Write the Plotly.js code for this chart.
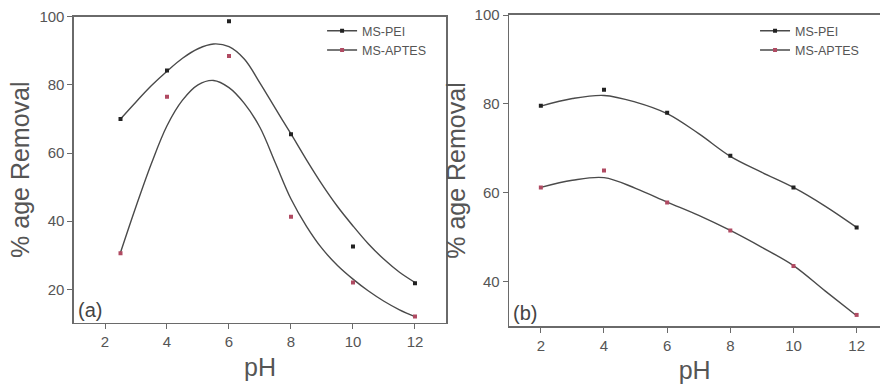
<!DOCTYPE html>
<html>
<head>
<meta charset="utf-8">
<script src="https://cdn.plot.ly/plotly-3.0.1.min.js"></script>
<style>html,body{margin:0;padding:0;background:#fff;}#chart{width:880px;height:385px;}</style>
</head>
<body>
<div id="chart"></div>
<script>
// ---------- Panel (a) data ----------
const phA = [2.5, 4, 6, 8, 10, 12];
const peiA = [70, 84.2, 98.7, 65.5, 32.6, 21.8];
const aptesA = [30.6, 76.5, 88.5, 41.3, 22, 12];
// fitted curves
const fitXA = [2.5, 3, 3.5, 4, 4.5, 5, 5.5, 6, 6.5, 7, 7.5, 8, 8.5, 9, 9.5, 10, 10.5, 11, 11.5, 12];
const fitPeiA = [70, 75, 79.8, 84, 87.8, 90.6, 92, 91.2, 87.5, 80.5, 73, 65.6, 58, 50.8, 44.3, 38.6, 33.3, 28.8, 25, 22];
const fitAptesA = [30.8, 44.3, 57, 68, 75.5, 80, 81.3, 79.2, 74.5, 67.5, 57, 46.5, 38.5, 32, 27, 23, 19.5, 16.5, 14, 12];

// ---------- Panel (b) data ----------
const phB = [2, 4, 6, 8, 10, 12];
const peiB = [79.6, 83.2, 78, 68.3, 61.2, 52.2];
const aptesB = [61.2, 65, 57.8, 51.5, 43.5, 32.5];
const fitXB = [2, 3, 4, 5, 6, 7, 8, 9, 10, 11, 12];
const fitPeiB = [79.5, 81.2, 81.9, 80.4, 77.8, 73.3, 68.2, 64.6, 61.2, 57, 52.2];
const fitAptesB = [61.2, 62.8, 63.4, 61, 57.9, 54.9, 51.5, 47.7, 43.6, 37.9, 32.3];

const seriesNames = ['MS-PEI', 'MS-APTES'];
const xTicks = [2, 4, 6, 8, 10, 12];
const yTicksA = [20, 40, 60, 80, 100];
const yTicksB = [40, 60, 80, 100];

const curveColor = '#4a4a4a';
const peiMarker = '#222222';
const aptesMarker = '#b04a62';
const axisColor = '#6a6a6a';
const textColor = '#555555';

function fit(x, y, xa, ya) {
  return {x: x, y: y, xaxis: xa, yaxis: ya, mode: 'lines', showlegend: false,
    line: {color: curveColor, width: 1.4, shape: 'spline', smoothing: 1}, hoverinfo: 'skip'};
}
function pts(x, y, xa, ya, c) {
  return {x: x, y: y, xaxis: xa, yaxis: ya, mode: 'markers', showlegend: false,
    marker: {color: c, size: 4, symbol: 'square'}};
}
function leg(name, c, lg) {
  return {x: [null], y: [null], xaxis: 'x', yaxis: 'y', mode: 'lines+markers', name: name, legend: lg,
    line: {color: curveColor, width: 1.4}, marker: {color: c, size: 4, symbol: 'square'}};
}

const data = [
  fit(fitXA, fitPeiA, 'x', 'y'),
  fit(fitXA, fitAptesA, 'x', 'y'),
  pts(phA, peiA, 'x', 'y', peiMarker),
  pts(phA, aptesA, 'x', 'y', aptesMarker),
  fit(fitXB, fitPeiB, 'x2', 'y2'),
  fit(fitXB, fitAptesB, 'x2', 'y2'),
  pts(phB, peiB, 'x2', 'y2', peiMarker),
  pts(phB, aptesB, 'x2', 'y2', aptesMarker),
  leg(seriesNames[0], peiMarker, 'legend'),
  leg(seriesNames[1], aptesMarker, 'legend'),
  leg(seriesNames[0], peiMarker, 'legend2'),
  leg(seriesNames[1], aptesMarker, 'legend2')
];

const tickFont = {family: 'Liberation Sans, Arial, sans-serif', size: 15, color: textColor};
const titleFont = {family: 'Liberation Sans, Arial, sans-serif', size: 25, color: textColor};

function xax(domain, range, anchor) {
  return {domain: domain, range: range, anchor: anchor, tickvals: xTicks, ticktext: xTicks.map(String),
    ticks: 'outside', ticklen: 5, tickcolor: axisColor, showline: true, linecolor: axisColor, linewidth: 1.6,
    mirror: true, showgrid: false, zeroline: false, tickfont: tickFont,
    title: {text: 'pH', font: titleFont, standoff: 9}};
}
function yax(domain, range, anchor, ticks, mirror) {
  return {domain: domain, range: range, anchor: anchor, tickvals: ticks, ticktext: ticks.map(String),
    ticks: 'outside', ticklen: 5, tickcolor: axisColor, showline: true, linecolor: axisColor, linewidth: 1.6,
    mirror: mirror, showgrid: false, zeroline: false, tickfont: tickFont,
    title: {text: '% age Removal', font: titleFont, standoff: 2}};
}

const legendFont = {family: 'Liberation Sans, Arial, sans-serif', size: 12.5, color: textColor};
const layout = {
  width: 880, height: 385,
  margin: {l: 0, r: 0, t: 0, b: 0},
  paper_bgcolor: '#ffffff', plot_bgcolor: '#ffffff',
  xaxis: xax([0.0841, 0.5068], [1, 13], 'y'),
  yaxis: yax([0.1618, 0.9566], [10.2, 100], 'x', yTicksA, true),
  xaxis2: xax([0.5787, 1], [1, 12.74], 'y2'),
  yaxis2: yax([0.1532, 0.961], [30, 100], 'x2', yTicksB, false),
  legend: {x: 0.366, y: 0.958, xanchor: 'left', yanchor: 'top', bgcolor: 'rgba(0,0,0,0)',
    font: legendFont, tracegroupgap: 0, itemwidth: 30},
  legend2: {x: 0.858, y: 0.958, xanchor: 'left', yanchor: 'top', bgcolor: 'rgba(0,0,0,0)',
    font: legendFont, tracegroupgap: 0, itemwidth: 30},
  annotations: [
    {text: '(a)', xref: 'x domain', yref: 'y domain', x: 0.005, y: 0.0, xanchor: 'left', yanchor: 'bottom',
      showarrow: false, font: {family: 'Liberation Sans, Arial, sans-serif', size: 20, color: '#444'}},
    {text: '(b)', xref: 'x2 domain', yref: 'y2 domain', x: 0.005, y: 0.0, xanchor: 'left', yanchor: 'bottom',
      showarrow: false, font: {family: 'Liberation Sans, Arial, sans-serif', size: 20, color: '#444'}}
  ]
};

Plotly.newPlot('chart', data, layout, {displayModeBar: false, staticPlot: true});
</script>
</body>
</html>
